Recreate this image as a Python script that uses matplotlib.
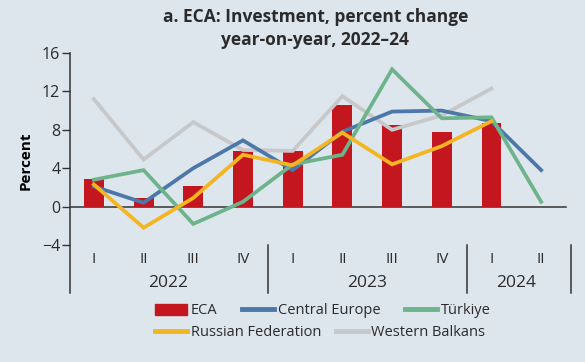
import matplotlib
matplotlib.use("Agg")
import matplotlib.pyplot as plt
import numpy as np
from matplotlib.patches import Patch
from matplotlib.lines import Line2D

quarters = ["I", "II", "III", "IV", "I", "II", "III", "IV", "I", "II"]
years = ["2022", "2023", "2024"]
eca = [2.9, 0.9, 2.1, 5.8, 5.8, 10.6, 8.5, 7.8, 8.7, np.nan]
central_europe = [2.1, 0.4, 4.0, 6.9, 3.8, 7.8, 9.9, 10.0, 8.9, 3.8]
turkiye = [2.8, 3.8, -1.8, 0.5, 4.4, 5.4, 14.3, 9.2, 9.3, 0.5]
russia = [2.3, -2.2, 0.9, 5.4, 4.3, 7.7, 4.4, 6.3, 8.9, np.nan]
w_balkans = [11.2, 4.9, 8.8, 5.9, 5.8, 11.5, 8.0, 9.5, 12.3, np.nan]
yticks = [-4, 0, 4, 8, 12, 16]

BG = "#dee6ed"
TXT = "#2b2b2b"
RED = "#c3161f"
BLUE = "#4b78a8"
GREEN = "#6db38b"
YELLOW = "#f4b522"
GRAY = "#c7c8ca"

plt.rcParams["font.family"] = ["Open Sans", "DejaVu Sans"]
plt.rcParams["text.color"] = TXT

fig = plt.figure(figsize=(5.85, 3.62), dpi=100, facecolor=BG)
ax = fig.add_axes([70/585, 69/362, 501/585, 240/362], facecolor=BG)

x = np.arange(len(quarters))
ax.bar(x, eca, width=0.4, color=RED, zorder=2)
lw = 2.7
ax.plot(x, w_balkans, color=GRAY, lw=lw, zorder=3, solid_joinstyle="miter")
ax.plot(x, central_europe, color=BLUE, lw=lw, zorder=4, solid_joinstyle="miter")
ax.plot(x, turkiye, color=GREEN, lw=lw, zorder=5, solid_joinstyle="miter")
ax.plot(x, russia, color=YELLOW, lw=lw, zorder=6, solid_joinstyle="miter")

ax.plot([-0.48, 9.5], [0, 0], color="#333333", lw=1.1, zorder=1)

ax.set_xlim(-0.48, 9.6)
ax.set_ylim(-9, 16)
ax.set_yticks(yticks)
ax.set_yticklabels(["\u22124" if v == -4 else str(v) for v in yticks], fontsize=11.5, color=TXT)
ax.tick_params(axis="y", length=6, width=1, color="#333333", pad=1)
ax.set_xticks([])
for s in ["top", "right", "bottom"]:
    ax.spines[s].set_visible(False)
ax.spines["left"].set_color("#333333")
ax.spines["left"].set_linewidth(1.1)
ax.set_ylabel("Percent", fontsize=11, fontweight="bold", labelpad=4)
ax.yaxis.set_label_coords(-0.075, 0.55)

for xi, q in zip(x, quarters):
    ax.text(xi, -5.5, q, ha="center", va="center", fontsize=11, color=TXT)
year_centers = [1.5, 5.5, 8.5]
for yc, yr in zip(year_centers, years):
    ax.text(yc, -8.0, yr, ha="center", va="center", fontsize=12.5, color=TXT)
for sx in [3.5, 7.5, 9.6]:
    ax.plot([sx, sx], [-4, -9], color="#333333", lw=1.1, clip_on=False)

fig.text(0.539, 0.952, "a. ECA: Investment, percent change", ha="center", va="center",
         fontsize=12.5, fontweight="bold")
fig.text(0.539, 0.889, "year-on-year, 2022\u201324", ha="center", va="center",
         fontsize=12.5, fontweight="bold")

h1 = [Patch(color=RED), Line2D([], [], color=BLUE, lw=3.5), Line2D([], [], color=GREEN, lw=3.5)]
l1 = ["ECA", "Central Europe", "Türkiye"]
h2 = [Line2D([], [], color=YELLOW, lw=3.5), Line2D([], [], color=GRAY, lw=3.5)]
l2 = ["Russian Federation", "Western Balkans"]
common = dict(frameon=False, fontsize=10.5, handlelength=2.2, handleheight=0.7,
              handletextpad=0.25, borderaxespad=0, borderpad=0)
leg1 = fig.legend(h1, l1, ncol=3, loc="center left", bbox_to_anchor=(155/585, 1-311/362),
                  columnspacing=1.7, **common)
leg2 = fig.legend(h2, l2, ncol=2, loc="center left", bbox_to_anchor=(155/585, 1-333/362),
                  columnspacing=1.0, **common)

fig.savefig("out.png", dpi=100, facecolor=BG)
